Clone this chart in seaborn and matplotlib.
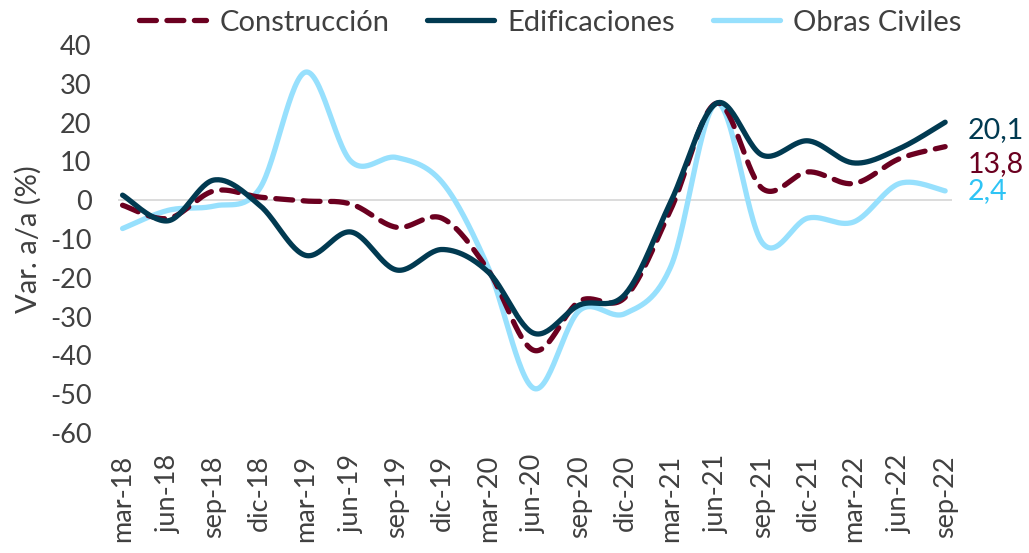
import numpy as np
import pandas as pd
import matplotlib
matplotlib.use("Agg")
import matplotlib.pyplot as plt
import seaborn as sns

periods = ["mar-18", "jun-18", "sep-18", "dic-18", "mar-19", "jun-19", "sep-19", "dic-19",
           "mar-20", "jun-20", "sep-20", "dic-20", "mar-21", "jun-21", "sep-21", "dic-21",
           "mar-22", "jun-22", "sep-22"]
construccion = [-1.3, -4.7, 2.4, 0.8, -0.2, -1.0, -7.0, -4.7, -18.0, -38.7, -26.0, -25.0,
                -2.3, 25.0, 3.0, 7.3, 4.3, 10.7, 13.8]
edificaciones = [1.3, -5.3, 5.2, -1.3, -14.2, -8.2, -18.0, -12.7, -18.5, -34.3, -27.0, -24.2,
                 -0.3, 25.0, 11.6, 15.3, 9.6, 13.3, 20.1]
obras_civiles = [-7.3, -2.6, -1.5, 3.0, 33.0, 10.0, 11.0, 4.5, -17.3, -48.5, -28.4, -29.2,
                 -17.0, 25.0, -11.0, -4.6, -5.6, 4.3, 2.4]
yticks = [40, 30, 20, 10, 0, -10, -20, -30, -40, -50, -60]

names = ["Construcción", "Edificaciones", "Obras Civiles"]
colors = {"Construcción": "#6b0020", "Edificaciones": "#013a51", "Obras Civiles": "#97e0fd"}
label_colors = {"Construcción": "#6b0020", "Edificaciones": "#013a51", "Obras Civiles": "#2ec4f5"}
series = {"Construcción": construccion, "Edificaciones": edificaciones, "Obras Civiles": obras_civiles}


def smooth(xs, ys, n=30):
    # Excel-style smoothed line (Catmull-Rom via cubic Bezier), rendering only
    xs = np.asarray(xs, float); ys = np.asarray(ys, float)
    px, py = [], []
    m = len(xs)
    for i in range(m - 1):
        i0 = max(i - 1, 0); i3 = min(i + 2, m - 1)
        p0 = np.array([xs[i0], ys[i0]]); p1 = np.array([xs[i], ys[i]])
        p2 = np.array([xs[i + 1], ys[i + 1]]); p3 = np.array([xs[i3], ys[i3]])
        c1 = p1 + (p2 - p0) / 6.0
        c2 = p2 - (p3 - p1) / 6.0
        t = np.linspace(0, 1, n, endpoint=(i == m - 2))
        b = ((1 - t) ** 3)[:, None] * p1 + (3 * (1 - t) ** 2 * t)[:, None] * c1 + \
            (3 * (1 - t) * t ** 2)[:, None] * c2 + (t ** 3)[:, None] * p2
        px.extend(b[:, 0]); py.extend(b[:, 1])
    return px, py


sns.set_theme(style="white")
plt.rcParams["font.family"] = ["Lato", "DejaVu Sans"]
text_color = "#404040"

fig = plt.figure(figsize=(10.29, 5.53), dpi=100)
ax = fig.add_axes([118 / 1029, 1 - 433 / 553, (952 - 118) / 1029, (433 - 45) / 553])

xpos = np.arange(len(periods))
ax.axhline(0, color="#d9d9d9", lw=1.3, zorder=1)

order = ["Obras Civiles", "Construcción", "Edificaciones"]
for name in order:
    sx, sy = smooth(xpos, series[name])
    df = pd.DataFrame({"x": sx, "y": sy})
    ls = (0, (3.2, 2.0)) if name == "Construcción" else "-"
    sns.lineplot(data=df, x="x", y="y", sort=False, ax=ax, color=colors[name], lw=3.8,
                 linestyle=ls, label=name, zorder=3, estimator=None)
    if name == "Construcción":
        ax.lines[-1].set_dash_capstyle("round")

ax.set_ylim(-60, 40)
ax.set_xlim(-0.1, 18.15)
ax.set_yticks(yticks)
ax.set_yticklabels([str(v) for v in yticks], fontsize=19.5, color=text_color)
ax.set_xticks(xpos)
ax.set_xticklabels(periods, rotation=90, fontsize=19.5, color=text_color)
ax.tick_params(axis="x", pad=16, length=0)
ax.tick_params(axis="y", pad=19, length=0)
ax.set_xlabel("")
ax.set_ylabel("Var. a/a (%)", fontsize=21, color=text_color, labelpad=6)
for s in ax.spines.values():
    s.set_visible(False)

# end labels
end_offsets = {"Edificaciones": -2.0, "Construcción": -4.4, "Obras Civiles": 0.0}
for name in names:
    v = series[name][-1]
    ax.annotate(f"{v:.1f}".replace(".", ","), xy=(xpos[-1], v + end_offsets[name]),
                xytext=(16, 0), textcoords="offset points", va="center", ha="left",
                fontsize=20.5, color=label_colors[name])

handles, labels = ax.get_legend_handles_labels()
hmap = dict(zip(labels, handles))
ax.get_legend().remove()
leg = fig.legend([hmap[n] for n in names], names, loc="upper center", ncol=3,
                 bbox_to_anchor=(0.535, 1.03), frameon=False, fontsize=21,
                 handlelength=2.3, columnspacing=1.3, handletextpad=0.45)
for t in leg.get_texts():
    t.set_color(text_color)

fig.savefig("out.png", dpi=100)
